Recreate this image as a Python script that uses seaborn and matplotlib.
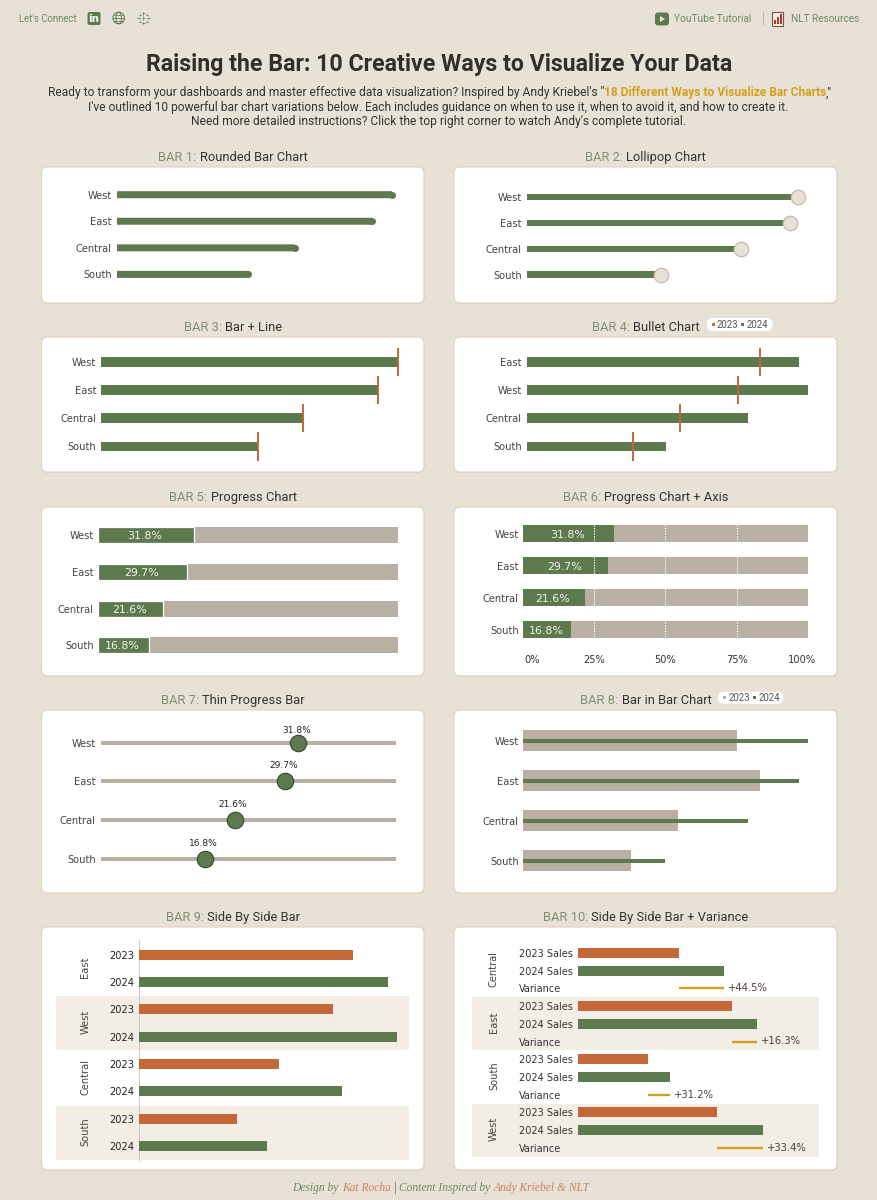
import numpy as np
import pandas as pd
import matplotlib
matplotlib.use("Agg")
import matplotlib.pyplot as plt
from matplotlib.patches import FancyBboxPatch, Circle, Ellipse, Polygon, Rectangle
from matplotlib.transforms import ScaledTranslation
import seaborn as sns

### values (sales in thousands)
regions = ["West", "East", "Central", "South"]
rounded_sales = [725, 672, 469, 346]
total_sales = [725, 678, 494, 384]
sales_2023 = [188, 208, 136, 95]
sales_2024 = [250, 242, 197, 124]
shares = [31.8, 29.7, 21.6, 16.8]
share_labels = ["31.8%", "29.7%", "21.6%", "16.8%"]
thin_track = [47.7, 47.7, 47.7, 47.7]
full_track = [100, 100, 100, 100]
axis_ticks = [0, 25, 50, 75, 100]
axis_labels = ["0%", "25%", "50%", "75%", "100%"]

bullet_order = ["East", "West", "Central", "South"]
side_order = ["East", "West", "Central", "South"]
variance_order = ["Central", "East", "South", "West"]
variance_labels = ["+44.5%", "+16.3%", "+31.2%", "+33.4%"]

bar_titles = ["Rounded Bar Chart", "Lollipop Chart", "Bar + Line", "Bullet Chart", "Progress Chart",
              "Progress Chart + Axis", "Thin Progress Bar", "Bar in Bar Chart", "Side By Side Bar",
              "Side By Side Bar + Variance"]

main_title = "Raising the Bar: 10 Creative Ways to Visualize Your Data"
sub_line2 = "I've outlined 10 powerful bar chart variations below. Each includes guidance on when to use it, when to avoid it, and how to create it."
sub_line3 = "Need more detailed instructions? Click the top right corner to watch Andy's complete tutorial."

bg_col = "#e8e2d6"
green = "#5d7a4f"
title_green = "#7d9070"
orange = "#c4683a"
grey = "#b8b0a2"
gold = "#d2a01e"
band = "#f2eee6"
dark = "#333333"

W, H = 878, 1200
sales23 = pd.Series(sales_2023, index=regions)
sales24 = pd.Series(sales_2024, index=regions)

sns.set_style("white")
plt.rcParams['font.family'] = ['DejaVu Sans']

fig = plt.figure(figsize=(W / 100, H / 100), dpi=100, facecolor=bg_col)
bg = fig.add_axes([0, 0, 1, 1], zorder=0)
bg.set_xlim(0, W)
bg.set_ylim(H, 0)
bg.axis('off')
renderer = fig.canvas.get_renderer()


def parts_text(cx, y, parts, size, family='Roboto', style='normal'):
    # centred line made of several coloured pieces, widths measured before placing
    # baseline alignment so all the pieces sit on one line
    base = y + 0.36 * size * 100 / 72
    items = []
    for s, c, w in parts:
        t = bg.text(0, base, s.replace(' ', '\u00a0'), color=c, fontsize=size, fontweight=w, family=family,
                    style=style, va='baseline', ha='left')
        items.append(t)
    widths = [t.get_window_extent(renderer).width for t in items]
    x = cx - sum(widths) / 2
    for t, w in zip(items, widths):
        t.set_x(x)
        x += w


def card(x0, y0, x1, y1):
    bg.add_patch(FancyBboxPatch((x0 + 0.5, y0 + 1), x1 - x0, y1 - y0, boxstyle="round,pad=0,rounding_size=6",
                                fc="#d6ccb8", ec='none', alpha=0.6))
    bg.add_patch(FancyBboxPatch((x0, y0), x1 - x0, y1 - y0, boxstyle="round,pad=0,rounding_size=6",
                                fc='white', ec="#e0d2b6", lw=0.8))


def panel_ax(left, right, ys):
    step = (ys[-1] - ys[0]) / (len(ys) - 1)
    top, bot = ys[0] - step / 2, ys[-1] + step / 2
    ax = fig.add_axes([left / W, 1 - bot / H, (right - left) / W, (bot - top) / H], zorder=2)
    ax.patch.set_alpha(0)
    return ax, step


def finish(ax, xmax, n, size=7.1, color="#444444", pad=3.4):
    ax.set_xlim(0, xmax)
    ax.set_ylim(n - 0.5, -0.5)
    ax.set(xlabel='', ylabel='')
    ax.grid(False)
    sns.despine(ax=ax, left=True, bottom=True)
    ax.tick_params(axis='y', length=0, labelsize=size, labelcolor=color, pad=pad)
    ax.tick_params(axis='x', length=0, labelbottom=False)


def hbar(ax, names, values, color, width, edgecolor='none', linewidth=0):
    sns.barplot(x=values, y=names, order=names, color=color, saturation=1, width=width, ax=ax,
                edgecolor=edgecolor, linewidth=linewidth)


def pill(x0, y0, x1, y1, c1, c2, x_sq1, x_sq2):
    y = (y0 + y1) / 2
    bg.add_patch(FancyBboxPatch((x0, y0), x1 - x0, y1 - y0, boxstyle="round,pad=0,rounding_size=6.2",
                                fc='white', ec='none'))
    for xs, c, s in [(x_sq1, c1, "2023"), (x_sq2, c2, "2024")]:
        bg.add_patch(Rectangle((xs - 1.5, y - 1.5), 3, 3, fc=c, ec='none'))
        bg.text(xs + 3.5, y, s, fontsize=6.9, family='Roboto', color="#555555", va='center', ha='left')


### header
bg.text(19, 18.5, "Let's Connect", fontsize=6.9, family='Roboto', color="#6f8a62", va='center')
bg.add_patch(FancyBboxPatch((87.5, 12), 13, 13, boxstyle="round,pad=0,rounding_size=2", fc=green, ec='none'))
bg.text(94, 19, "in", fontsize=7.5, fontweight='bold', color='white', ha='center', va='center')
bg.add_patch(Circle((118.7, 18), 5.8, fc='none', ec=green, lw=0.7))
bg.add_patch(Ellipse((118.7, 18), 5.5, 11.6, fc='none', ec=green, lw=0.6))
bg.plot([113, 124.5], [18, 18], color=green, lw=0.6)
bg.plot([114, 123.4], [15, 15], color=green, lw=0.5)
bg.plot([114, 123.4], [21, 21], color=green, lw=0.5)
for dx, dy, r in [(0, 0, 1.6), (0, -4.8, 1.3), (0, 4.8, 1.3), (-4.8, 0, 1.3), (4.8, 0, 1.3), (-3.5, -3.5, 0.8), (3.5, -3.5, 0.8),
                  (-3.5, 3.5, 0.8), (3.5, 3.5, 0.8)]:
    bg.plot([143.5 + dx - r, 143.5 + dx + r], [18 + dy, 18 + dy], color=title_green, lw=0.6)
    bg.plot([143.5 + dx, 143.5 + dx], [18 + dy - r, 18 + dy + r], color=title_green, lw=0.6)

bg.add_patch(FancyBboxPatch((655, 12.5), 14, 13, boxstyle="round,pad=0,rounding_size=3", fc=green, ec='none'))
bg.add_patch(Polygon([[660, 16], [660, 22], [665, 19]], fc=bg_col, ec='none'))
bg.text(674, 19, "YouTube Tutorial", fontsize=7.3, family='Roboto', color="#6f8a62", va='center')
bg.plot([763, 763], [12, 25], color="#bdb39f", lw=0.7)
bg.add_patch(Rectangle((772.5, 12), 11, 13.5, fc='#f4f0e8', ec="#6b5a4a", lw=0.8))
for bx, bh, c in [(774.5, 4, "#b5342a"), (777.2, 7, "#b5342a"), (780, 10, "#b5342a")]:
    bg.add_patch(Rectangle((bx, 24 - bh), 1.8, bh, fc=c, ec='none'))
bg.text(791, 19, "NLT Resources", fontsize=7.2, family='Roboto', color="#6f8a62", va='center')

parts_text(439, 62.5, [(main_title, "#2f2f2b", 'bold')], 16.65)
parts_text(440, 92, [('Ready to transform your dashboards and master effective data visualization? Inspired by Andy Kriebel\'s "', dark, 'normal'),
                     ('18 Different Ways to Visualize Bar Charts', gold, 'bold'), (',"', dark, 'normal')], 8.65)
parts_text(438, 106.5, [(sub_line2, dark, 'normal')], 8.65)
parts_text(439, 120.7, [(sub_line3, dark, 'normal')], 8.65)

### cards + titles
left_c, right_c = (41.5, 424), (454, 837)
rows_c = [(167, 303), (337, 472), (507, 676), (710, 893), (927, 1170)]
title_y = [156.5, 326.3, 496, 699.3, 916]
for i, name in enumerate(bar_titles):
    cx0, cx1 = right_c if i % 2 else left_c
    r = i // 2
    card(cx0, rows_c[r][0], cx1, rows_c[r][1])
    parts_text((cx0 + cx1) / 2 + 0.3, title_y[r], [("BAR %d: " % (i + 1), title_green, 'normal'), (name, dark, 'normal')], 9.25)

pill(706.7, 318, 772.7, 331, orange, green, 713.3, 743)
pill(718, 691.7, 783.3, 704, grey, green, 725, 755)

# BAR 1
ax, step = panel_ax(116.7, 392.2, [194.7, 221.3, 247.9, 274.4])
hbar(ax, regions, rounded_sales, green, 7 / 26.5)
for p in ax.patches:
    p.set_snap(False)  # so the round cap lines up with the bar
ax.scatter(rounded_sales, range(4), s=25.4, color=green, linewidths=0, clip_on=False, zorder=3)
finish(ax, 725, 4)

# BAR 2
ax, step = panel_ax(526.7, 798.3, [197, 222.9, 248.8, 274.7])
hbar(ax, regions, sales_2024, green, 6.5 / 25.9)
ax.scatter(sales_2024, range(4), s=108, color=bg_col, edgecolors="#c6bcab", linewidths=0.9, clip_on=False, zorder=3)
finish(ax, 250, 4)

# BAR 3
ax, step = panel_ax(101, 397.7, [361.7, 390, 418.3, 446.5])
hbar(ax, regions, total_sales, green, 10 / 28.3)
ax.vlines(total_sales, np.arange(4) - 0.5, np.arange(4) + 0.5, color=orange, lw=1.4, zorder=3, clip_on=False)
finish(ax, 725, 4)

# BAR 4
ax, step = panel_ax(526.7, 807.7, [361.7, 390, 418.3, 446.5])
hbar(ax, bullet_order, sales24[bullet_order].tolist(), green, 10 / 28.3)
ax.vlines(sales23[bullet_order].tolist(), np.arange(4) - 0.5, np.arange(4) + 0.5, color=orange, lw=1.4, zorder=3, clip_on=False)
finish(ax, 250, 4)

# BAR 5
ax, step = panel_ax(98.3, 397.7, [535.3, 572, 608.7, 645.3])
hbar(ax, regions, full_track, grey, 16 / 36.7)
hbar(ax, regions, shares, green, 16 / 36.7, edgecolor='white', linewidth=0.9)
for i in range(4):
    ax.text(shares[i] / 2 - 0.5, i, share_labels[i], color="#f4f1e8", fontsize=7.9, ha='center', va='center_baseline')
finish(ax, 100, 4)

# BAR 6
ax, step = panel_ax(523.3, 807.7, [533.7, 565.7, 597.7, 629.7])
hbar(ax, regions, full_track, grey, 17 / 32)
hbar(ax, regions, shares, green, 17 / 32)
ax.vlines(axis_ticks[1:4], -0.27, 3.27, color='white', lw=0.7, linestyles=(0, (1.5, 1.2)), zorder=4)
for i in range(4):
    ax.text(shares[i] / 2 - 0.5, i, share_labels[i], color="#f4f1e8", fontsize=7.9, ha='center', va='center_baseline', zorder=5)
finish(ax, 100, 4)
ax.set_xticks(axis_ticks, axis_labels)
ax.tick_params(axis='x', labelbottom=True, length=0, labelsize=7.1, labelcolor="#333333", pad=6.6)
# end labels are pulled inwards like in the original
ticks = ax.xaxis.get_major_ticks()
ticks[0].label1.set_transform(ax.get_xaxis_transform() + ScaledTranslation(6.5 / 72, -6.6 / 72, fig.dpi_scale_trans))
ticks[-1].label1.set_transform(ax.get_xaxis_transform() + ScaledTranslation(-4 / 72, -6.6 / 72, fig.dpi_scale_trans))

# BAR 7
ax, step = panel_ax(100.7, 396.3, [742.7, 781.3, 820, 858.7])
hbar(ax, regions, thin_track, grey, 4 / 38.7)
ax.scatter(shares, range(4), s=140, color=green, edgecolors="#34472c", linewidths=0.8, clip_on=False, zorder=3)
for i in range(4):
    ax.annotate(share_labels[i], (shares[i], i), xytext=(-1, 9 if i == 0 else 11.3), textcoords='offset points',
                fontsize=6.5, color="#222222", ha='center', va='center', annotation_clip=False, zorder=4)
finish(ax, 47.7, 4)

# BAR 8
ax, step = panel_ax(523.3, 808, [740.7, 780.7, 820.7, 860.7])
hbar(ax, regions, sales_2023, grey, 20.7 / 40)
hbar(ax, regions, sales_2024, green, 3.6 / 40)
finish(ax, 250, 4)

# BAR 9
for y0, y1 in [(996, 1050), (1105.7, 1160)]:
    bg.add_patch(Rectangle((56, y0), 353.3, y1 - y0, fc=band, ec='none'))
side_rows = pd.DataFrame({
    'row': np.arange(8),
    'year': ['2023', '2024'] * 4,
    'value': [v for r in side_order for v in (sales23[r], sales24[r])],
})
ax, step = panel_ax(139.3, 396.7, np.linspace(954.7, 1146.2, 8))
sns.barplot(data=side_rows, x='value', y='row', hue='year', palette={'2023': orange, '2024': green}, saturation=1,
            dodge=False, legend=False, width=10 / 27.36, order=list(range(8)), orient='h', ax=ax,
            edgecolor='none', linewidth=0)
finish(ax, 250, 8, color="#222222")
ax.set_yticks(range(8), side_rows.year)
bg.plot([139.3, 139.3], [940, 1160], color="#cfcbc2", lw=0.8)
for name, yc in zip(side_order, [967, 1022, 1076.7, 1131.7]):
    bg.text(85.3, yc, name, rotation=90, fontsize=7.1, color="#444444", ha='center', va='center')

# BAR 10
for y0, y1 in [(997.3, 1050), (1104, 1156.7)]:
    bg.add_patch(Rectangle((472, y0), 347.3, y1 - y0, fc=band, ec='none'))
var_rows = pd.DataFrame({
    'row': [i * 3 + k for i in range(4) for k in (0, 1)],
    'year': ['2023', '2024'] * 4,
    'value': [v for r in variance_order for v in (sales23[r], sales24[r])],
})
ax, step = panel_ax(577.7, 763.3, np.linspace(953, 1147.7, 12))
sns.barplot(data=var_rows, x='value', y='row', hue='year', palette={'2023': orange, '2024': green}, saturation=1,
            dodge=False, legend=False, width=10 / 17.7, order=list(range(12)), orient='h', ax=ax,
            edgecolor='none', linewidth=0)
ax.hlines(np.arange(4) * 3 + 2, sales23[variance_order].tolist(), sales24[variance_order].tolist(), color=gold, lw=1.7,
          zorder=3, clip_on=False)
for i, r in enumerate(variance_order):
    ax.annotate(variance_labels[i], (sales24[r], i * 3 + 2), xytext=(2.8, 0), textcoords='offset points', fontsize=7.2,
                color="#4a3f3a", ha='left', va='center', annotation_clip=False)
finish(ax, 250, 12, color="#333333", pad=42.5, size=7)
ax.set_yticks(range(12), ["2023 Sales", "2024 Sales", "Variance"] * 4, ha='left')
for name, yc in zip(variance_order, [969, 1022.7, 1076, 1129.3]):
    bg.text(494, yc, name, rotation=90, fontsize=7.1, color="#444444", ha='center', va='center')

### footer
parts_text(441, 1187, [("Design by ", "#6f8a62", 'normal'), ("Kat Rocha", "#d0805a", 'normal'), (" | ", "#555555", 'normal'),
                       ("Content Inspired by ", "#6f8a62", 'normal'), ("Andy Kriebel & NLT", "#d0805a", 'normal')],
           8.3, family='Liberation Serif', style='italic')

plt.savefig('out.png', dpi=100, facecolor=bg_col)
